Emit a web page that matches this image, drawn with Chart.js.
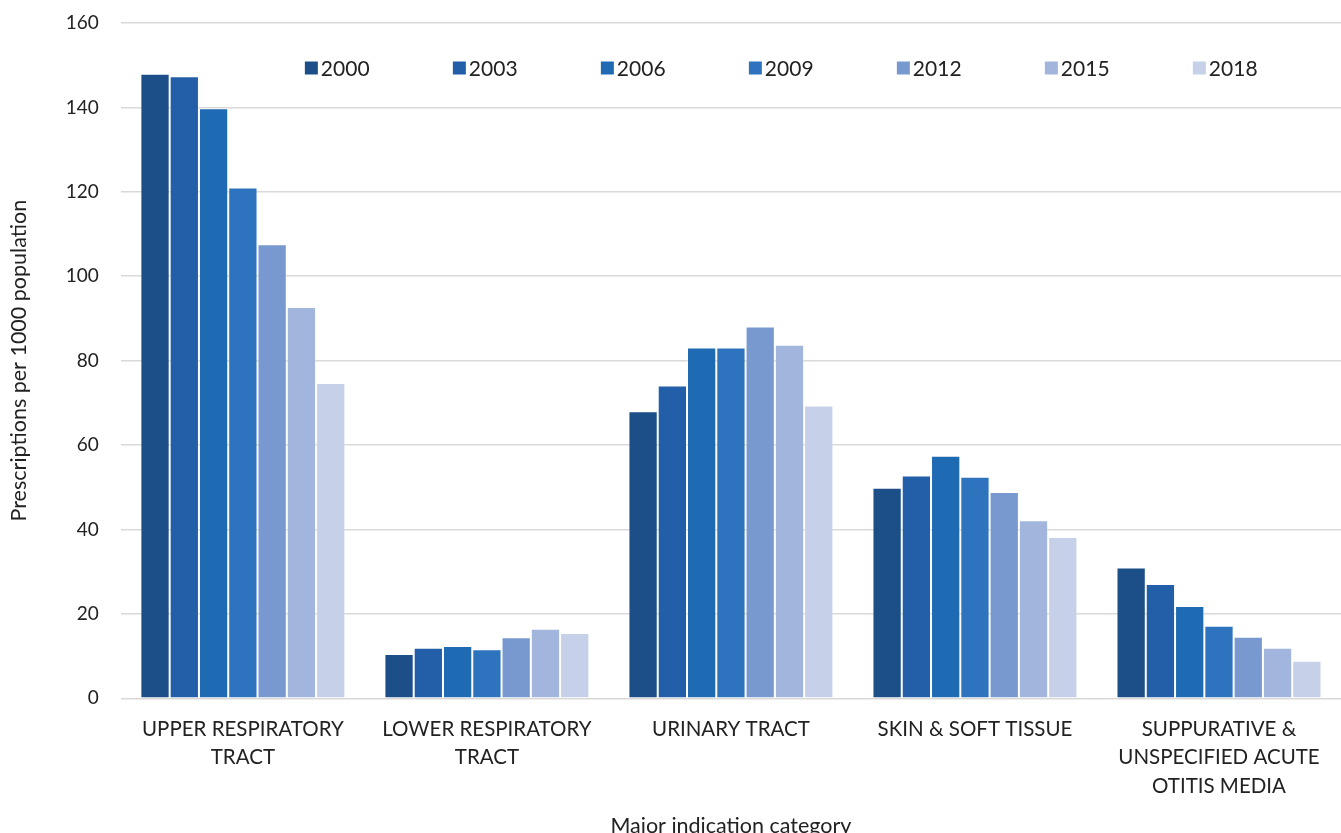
<!DOCTYPE html>
<html>
<head>
<meta charset="utf-8">
<script src="https://cdn.jsdelivr.net/npm/chart.js@4.4.0/dist/chart.umd.min.js"></script>
<style>
  html, body { margin: 0; padding: 0; background: #fff; }
  #wrap { width: 1341px; height: 833px; }
</style>
</head>
<body>
<div id="wrap"><canvas id="barChart"></canvas></div>
<script>
// categorias y series
var categories = [
  ['UPPER RESPIRATORY', 'TRACT'],
  ['LOWER RESPIRATORY', 'TRACT'],
  ['URINARY TRACT'],
  ['SKIN & SOFT TISSUE'],
  ['SUPPURATIVE &', 'UNSPECIFIED ACUTE', 'OTITIS MEDIA']
];
var years = ['2000', '2003', '2006', '2009', '2012', '2015', '2018'];
var v2000 = [148.0, 10.5, 68.0, 49.9, 31.0];
var v2003 = [147.4, 12.0, 74.1, 52.8, 27.1];
var v2006 = [139.8, 12.4, 83.1, 57.5, 21.9];
var v2009 = [121.0, 11.6, 83.1, 52.5, 17.2];
var v2012 = [107.6, 14.5, 88.1, 48.9, 14.6];
var v2015 = [92.7, 16.5, 83.8, 42.2, 12.0];
var v2018 = [74.7, 15.5, 69.4, 38.2, 8.9];
var yTicks = [0, 20, 40, 60, 80, 100, 120, 140, 160];

var colores = ['#1c4e88', '#225fa8', '#1e6bb4', '#2e73bd', '#7799cf', '#a2b6dd', '#c6d1e9'];
var valores = [v2000, v2003, v2006, v2009, v2012, v2015, v2018];

var fuente = 'Lato, "Open Sans", sans-serif';

var datasets = years.map(function (y, i) {
  return {
    label: y,
    data: valores[i],
    backgroundColor: colores[i],
    borderColor: 'rgba(255, 255, 255, 0.3)',
    borderWidth: 1,
    barPercentage: 1,
    categoryPercentage: 0.84
  };
});

// leyenda en una fila dentro del area del grafico
var leyenda = {
  id: 'leyenda',
  afterDraw: function (chart) {
    var c = chart.ctx;
    var area = chart.chartArea;
    var x0 = area.left + 184;
    var yc = area.top + 45;
    c.save();
    c.font = '21px ' + fuente;
    c.textBaseline = 'middle';
    c.textAlign = 'left';
    chart.data.datasets.forEach(function (ds, i) {
      var x = x0 + i * 148;
      c.fillStyle = ds.backgroundColor;
      c.fillRect(x, yc - 6.5, 13, 13);
      c.fillStyle = '#222';
      c.fillText(ds.label, x + 16, yc + 1);
    });
    c.restore();
  }
};

var ctx = document.getElementById('barChart').getContext('2d');
new Chart(ctx, {
  type: 'bar',
  data: { labels: categories, datasets: datasets },
  options: {
    responsive: true,
    maintainAspectRatio: false,
    animation: false,
    layout: { padding: { top: 23, right: 0, left: 6, bottom: -6 } },
    plugins: {
      tooltip: { enabled: false },
      legend: { display: false }
    },
    scales: {
      x: {
        grid: { display: false },
        border: { display: false },
        ticks: {
          color: '#222',
          padding: 9,
          maxRotation: 0,
          autoSkip: false,
          font: { family: fuente, size: 20.5, lineHeight: 1.38 }
        },
        title: {
          display: true,
          text: 'Major indication category',
          color: '#222',
          padding: { top: 4, bottom: 0 },
          font: { family: fuente, size: 21.5 }
        }
      },
      y: {
        min: 0,
        max: 160,
        afterBuildTicks: function (axis) {
          axis.ticks = yTicks.map(function (v) { return { value: v }; });
        },
        afterFit: function (axis) {
          axis.paddingTop = 0;
          axis.paddingBottom = 0;
        },
        grid: { color: '#d9d9d9', lineWidth: 1.5, drawTicks: false },
        border: { display: false },
        ticks: {
          color: '#222',
          padding: 22,
          font: { family: fuente, size: 19 }
        },
        title: {
          display: true,
          text: 'Prescriptions per 1000 population',
          color: '#222',
          padding: { top: 0, bottom: 12 },
          font: { family: fuente, size: 21.5 }
        }
      }
    }
  },
  plugins: [leyenda]
});
</script>
</body>
</html>
